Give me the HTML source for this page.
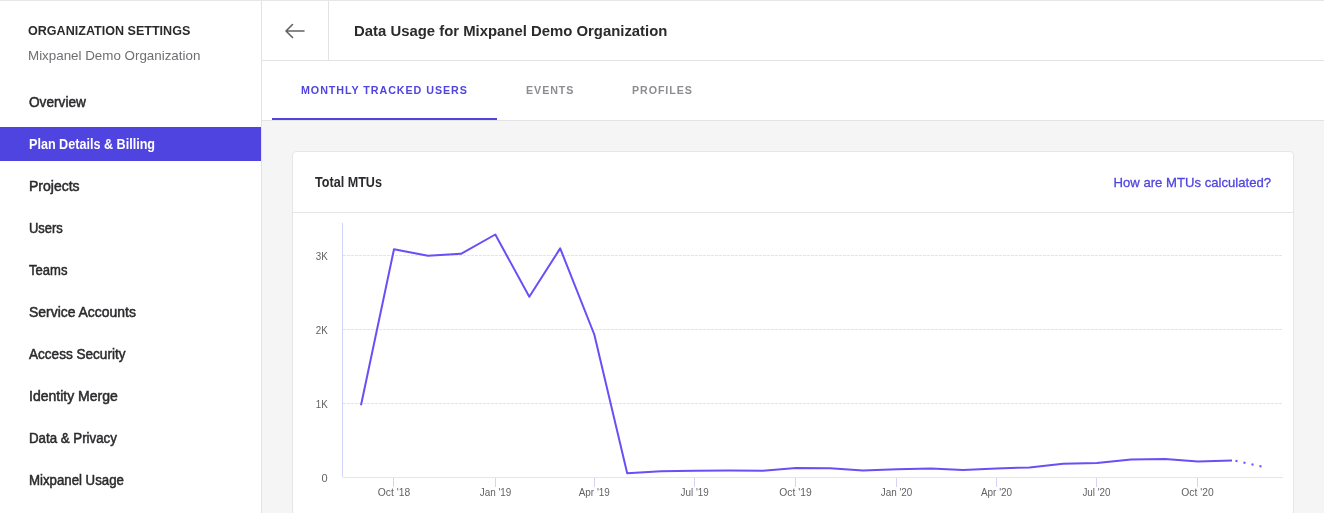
<!DOCTYPE html>
<html lang="en">
<head>
<meta charset="utf-8">
<title>Data Usage for Mixpanel Demo Organization</title>
<style>
*{box-sizing:border-box;margin:0;padding:0}
html,body{width:1324px;height:513px;overflow:hidden;background:#f5f5f5;font-family:"Liberation Sans",sans-serif;color:#2b2b2e}
body{position:relative}
.topline{position:absolute;left:0;top:0;width:1324px;height:1px;background:#e6e6e6;z-index:5}
.sidebar{position:absolute;left:0;top:0;width:262px;height:513px;background:#fff;border-right:1px solid #e3e3e3}
.sx{display:inline-block;transform-origin:0 50%}
.sb-title{position:absolute;left:28px;top:22.5px;font-size:13.5px;font-weight:700;transform:scaleX(.93);transform-origin:0 50%;line-height:16px;color:#2b2b2e;white-space:nowrap}
.sb-sub{position:absolute;left:28px;top:48px;font-size:13px;transform:scaleX(1.028);transform-origin:0 50%;line-height:16px;color:#6f6f73;white-space:nowrap}
.nav{position:absolute;left:0;top:85px;width:261px;list-style:none}
.nav li{height:34px;margin-bottom:8px;padding-left:29px;font-size:14px;line-height:35px;color:#2b2b2e;white-space:nowrap;-webkit-text-stroke:.5px #2b2b2e}
.nav li span{display:inline-block;transform-origin:0 50%}
.nav li.active{background:#4f44e0;color:#fff;font-weight:700;-webkit-text-stroke:0}
.header{position:absolute;left:262px;top:0;width:1062px;height:61px;background:#fff;border-bottom:1px solid #e3e3e3}
.back{position:absolute;left:0;top:0;width:67px;height:60px;border-right:1px solid #e3e3e3}
.back svg{position:absolute;left:22px;top:22px}
.title{position:absolute;left:92px;top:21px;font-size:15.5px;font-weight:700;line-height:20px;transform:scaleX(.96);transform-origin:0 50%;color:#2b2b2e;white-space:nowrap}
.tabs{position:absolute;left:262px;top:61px;width:1062px;height:60px;background:#fff;border-bottom:1px solid #e3e3e3}
.tab{position:absolute;top:0;height:59px;line-height:59px;font-size:11.5px;font-weight:700;letter-spacing:1px;color:#8c8c91;white-space:nowrap}
.tab.active{color:#4f44e0}
.tab.active:after{content:"";position:absolute;left:-29px;width:225px;bottom:0;height:2px;background:#4f44e0}
.card{position:absolute;left:292px;top:151px;width:1002px;height:364px;background:#fff;border:1px solid #e6e6e6;border-radius:4px}
.card-head{position:absolute;left:0;top:0;width:1000px;height:61px;border-bottom:1px solid #e6e6e6}
.card-title{position:absolute;left:22px;top:21px;font-size:14px;font-weight:700;transform:scaleX(.90);transform-origin:0 50%;line-height:18px;color:#2b2b2e;white-space:nowrap}
.card-link{position:absolute;right:22px;top:21.7px;font-size:13.5px;-webkit-text-stroke:.3px #4f44e0;transform:scaleX(.972);transform-origin:100% 50%;line-height:18px;color:#4f44e0;white-space:nowrap}
svg.chart{position:absolute;left:0;top:0}
svg.chart text{font-family:"Liberation Sans",sans-serif;font-size:11px;fill:#626266}
</style>
</head>
<body>
<div class="topline"></div>
<div class="sidebar">
  <div class="sb-title">ORGANIZATION SETTINGS</div>
  <div class="sb-sub">Mixpanel Demo Organization</div>
  <ul class="nav">
    <li><span style="transform:scaleX(.975)">Overview</span></li>
    <li class="active"><span style="transform:scaleX(.90)">Plan Details &amp; Billing</span></li>
    <li><span style="transform:scaleX(1)">Projects</span></li>
    <li><span style="transform:scaleX(.925)">Users</span></li>
    <li><span style="transform:scaleX(.932)">Teams</span></li>
    <li><span style="transform:scaleX(.995)">Service Accounts</span></li>
    <li><span style="transform:scaleX(.969)">Access Security</span></li>
    <li><span style="transform:scaleX(1)">Identity Merge</span></li>
    <li><span style="transform:scaleX(.949)">Data &amp; Privacy</span></li>
    <li><span style="transform:scaleX(.945)">Mixpanel Usage</span></li>
  </ul>
</div>
<div class="header">
  <div class="back">
    <svg width="22" height="18" viewBox="0 0 22 18" fill="none" stroke="#626266" stroke-width="1.6" stroke-linecap="round" stroke-linejoin="round"><path d="M20 9H2.5M8.5 2.5L2 9l6.5 6.5"/></svg>
  </div>
  <div class="title">Data Usage for Mixpanel Demo Organization</div>
</div>
<div class="tabs">
  <div class="tab active" style="left:39px"><span class="sx" style="transform:scaleX(.933)">MONTHLY TRACKED USERS</span></div>
  <div class="tab" style="left:264px"><span class="sx" style="transform:scaleX(.93)">EVENTS</span></div>
  <div class="tab" style="left:370px"><span class="sx" style="transform:scaleX(.928)">PROFILES</span></div>
</div>
<div class="card">
  <div class="card-head">
    <div class="card-title">Total MTUs</div>
    <div class="card-link">How are MTUs calculated?</div>
  </div>
</div>
<svg class="chart" width="1324" height="513" viewBox="0 0 1324 513">
  <g stroke="#e4e4e4" stroke-width="1" stroke-dasharray="3 1" fill="none">
    <path d="M343 255.5H1283M343 329.5H1283M343 403.5H1283"/>
  </g>
  <path d="M342.5 223V477" stroke="#d3d3f7" stroke-width="1" fill="none"/>
  <path d="M343 477.5H1283" stroke="#e6e6e6" stroke-width="1" fill="none"/>
  <path d="M393.5 478v9M495.5 478v9M594.5 478v9M694.5 478v9M795.5 478v9M896.5 478v9M996.5 478v9M1096.5 478v9M1197.5 478v9" stroke="#d3d3f7" stroke-width="1" fill="none"/>
  <polyline fill="none" stroke="#694ff6" stroke-width="2" stroke-linejoin="round" stroke-linecap="butt"
   points="361,405.2 394,249.2 428,255.8 461,253.8 495.3,234.5 529.3,296.8 560.2,248.4 594.3,334.5 627.2,473.2 661,471.3 695,470.8 729,470.5 763,470.7 796,468 830,468.3 863,470.4 897,469.2 931,468.6 963,470 996.5,468.4 1029.5,467.5 1063,463.7 1097,463.1 1131,459.6 1165,459 1198,461.5 1232,460.5"/>
  <path d="M1235.5 460.8L1262 466.6" stroke="#694ff6" stroke-width="2" stroke-dasharray="2 6.19" fill="none"/>
  <g text-anchor="end">
    <text x="327.7" y="260" textLength="12" lengthAdjust="spacingAndGlyphs">3K</text>
    <text x="327.7" y="334" textLength="12" lengthAdjust="spacingAndGlyphs">2K</text>
    <text x="327.7" y="408" textLength="12" lengthAdjust="spacingAndGlyphs">1K</text>
    <text x="327.7" y="482">0</text>
  </g>
  <g text-anchor="middle">
    <text x="394" y="496" textLength="32.4" lengthAdjust="spacingAndGlyphs">Oct '18</text>
    <text x="495.5" y="496" textLength="31.6" lengthAdjust="spacingAndGlyphs">Jan '19</text>
    <text x="594.3" y="496" textLength="31.2" lengthAdjust="spacingAndGlyphs">Apr '19</text>
    <text x="694.7" y="496" textLength="28.2" lengthAdjust="spacingAndGlyphs">Jul '19</text>
    <text x="795.5" y="496" textLength="32.4" lengthAdjust="spacingAndGlyphs">Oct '19</text>
    <text x="896.5" y="496" textLength="31.6" lengthAdjust="spacingAndGlyphs">Jan '20</text>
    <text x="996.5" y="496" textLength="31.2" lengthAdjust="spacingAndGlyphs">Apr '20</text>
    <text x="1096.5" y="496" textLength="28.2" lengthAdjust="spacingAndGlyphs">Jul '20</text>
    <text x="1197.5" y="496" textLength="32.4" lengthAdjust="spacingAndGlyphs">Oct '20</text>
  </g>
</svg>
</body>
</html>
